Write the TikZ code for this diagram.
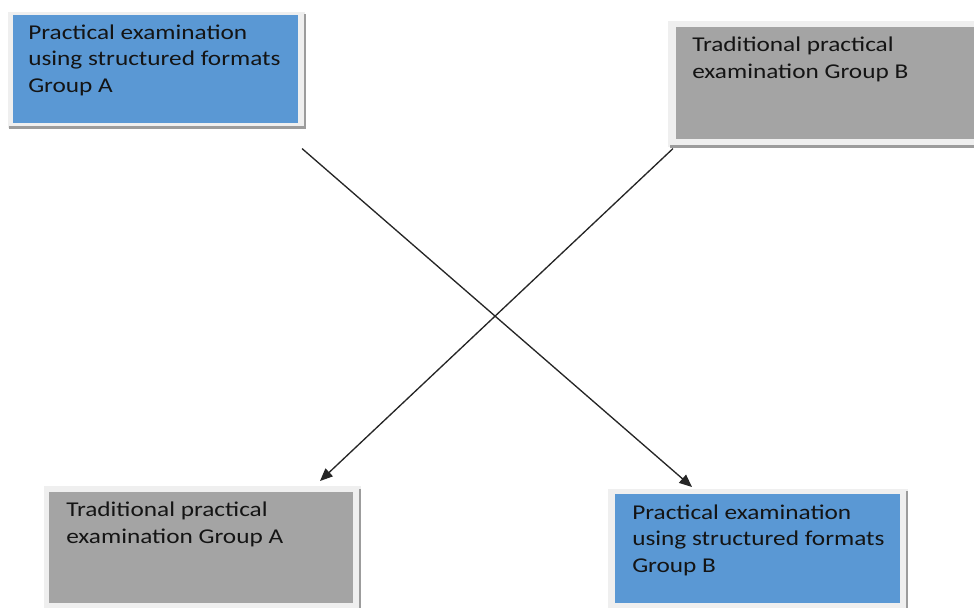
\documentclass[tikz,border=0pt]{standalone}
\usepackage{fontspec}
\setmainfont{Carlito}[FakeStretch=1.2]
\usetikzlibrary{arrows.meta,calc}
\definecolor{boxblue}{HTML}{5A98D4}
\definecolor{boxgray}{HTML}{A4A4A4}
\definecolor{framec}{HTML}{EFEFEF}
\definecolor{shadowc}{HTML}{9C9C9C}
\definecolor{txtc}{HTML}{141414}
\tikzset{
  x=0.75pt, y=-0.75pt,
  bx/.style={draw=none, inner sep=0pt, anchor=north west},
  bluebox/.style={bx, fill=boxblue},
  graybox/.style={bx, fill=boxgray},
  boxtext/.style={inner sep=0pt, anchor=base west, align=left, text=txtc,
    font=\fontsize{15.8pt}{19.6pt}\selectfont},
  conn/.style={draw=black!85, line width=1pt, -{Triangle[length=9.5pt,width=8pt]}}
}
\begin{document}
\begin{tikzpicture}
\useasboundingbox (0,0) rectangle (974,608);
% frames and shadows
\fill[framec] (8,12) rectangle (305,128);
\fill[shadowc] (9,125.5) rectangle (306,128.5);
\fill[shadowc] (303.5,14) rectangle (306,128.5);
\fill[framec] (668,21) rectangle (974,147);
\fill[shadowc] (670,144.5) rectangle (974,147.5);
\fill[framec] (44,486) rectangle (361,608);
\fill[shadowc] (358.5,489) rectangle (361,608);
\fill[framec] (608,489) rectangle (908,608);
\fill[shadowc] (905.5,491) rectangle (908,608);
% boxes
\node[bluebox, minimum width=213.75pt, minimum height=81pt] (b1) at (13,15) {};
\node[graybox, minimum width=223.5pt, minimum height=84pt] (b2) at (676,27) {};
\node[graybox, minimum width=228pt, minimum height=83.25pt] (b3) at (49,492) {};
\node[bluebox, minimum width=213.75pt, minimum height=81.75pt] (b4) at (615,494) {};
% texts (anchored at the baseline of the last line)
\node[boxtext] (t1) at (28,92) {Practical examination\\using structured formats\\Group A};
\node[boxtext] (t2) at (692,78) {Traditional practical\\examination Group B};
\node[boxtext] (t3) at (66,543) {Traditional practical\\examination Group A};
\node[boxtext] (t4) at (632,572) {Practical examination\\using structured formats\\Group B};
% connectors
\coordinate (s1) at ($(b1.south west)+(289,25)$);
\coordinate (s2) at ($(b2.south west)+(-3,9)$);
\draw[conn] (s1) -- ($(b4.north west)+(77,-7)$);
\draw[conn] (s2) -- ($(b3.north west)+(271,-11)$);
\end{tikzpicture}
\end{document}
